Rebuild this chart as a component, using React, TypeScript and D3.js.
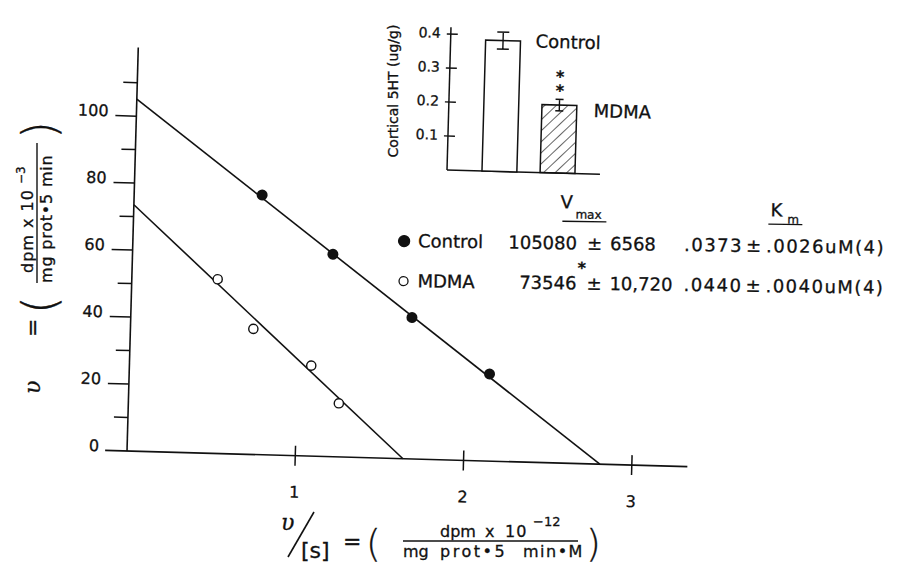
import React, { useRef, useEffect } from 'react';
import * as d3 from 'd3';

// Eadie-Hofstee points: v (dpm x 10^-3) against v/[s] (dpm x 10^-12)
const controlRatio = [0.76, 1.19, 1.67, 2.14];
const controlV = [77.5, 60.4, 42.2, 26.0];
const mdmaRatio = [0.51, 0.73, 1.08, 1.25];
const mdmaV = [52.0, 37.5, 27.0, 16.0];

// fitted lines: y intercept (Vmax / 1000) and x intercept
const fitVmax = [105.08, 73.546];
const fitXIntercept = [2.81, 1.64];

const xTicks = [1, 2, 3];
const yMajorTicks = [0, 20, 40, 60, 80, 100];
const yMinorTicks = [10, 30, 50, 70, 90, 110];

// inset: cortical 5HT
const insetGroups = ['Control', 'MDMA'];
const insetValues = [0.385, 0.2];
const insetErrors = [0.025, 0.017];
const insetTicks = [0.1, 0.2, 0.3, 0.4];

// kinetic constants table
const tableNames = ['Control', 'MDMA'];
const tableVmax = ['105080', '73546'];
const tableVmaxErr = ['6568', '10,720'];
const tableKm = ['.0373', '.0440'];
const tableKmErr = ['.0026uM(4)', '.0040uM(4)'];

const W = 917;
const H = 567;
const FONT = 'DejaVu Sans';
const INK = '#111';

const App = () => {
  const ref = useRef<SVGSVGElement>(null);

  useEffect(() => {
    const svg = d3.select(ref.current);
    svg.selectAll('*').remove();
    svg.style('font-family', FONT);

    const defs = svg.append('defs');
    defs.append('pattern')
      .attr('id', 'hatch')
      .attr('patternUnits', 'userSpaceOnUse')
      .attr('width', 8)
      .attr('height', 8)
      .attr('patternTransform', 'rotate(45)')
      .append('line')
      .attr('x1', 0).attr('y1', 0).attr('x2', 0).attr('y2', 8)
      .attr('stroke', INK)
      .attr('stroke-width', 1.3);

    // ---- main plot (scan is tilted a little, so rotate about the origin)
    const x = d3.scaleLinear().domain([0, 3]).range([127, 632]);
    const y = d3.scaleLinear().domain([0, 100]).range([451, 116]);
    const plot = svg.append('g').attr('transform', `rotate(1.6, ${x(0)}, ${y(0)})`);

    // axes
    plot.append('line')
      .attr('x1', x(-0.13)).attr('x2', x(3.33))
      .attr('y1', y(0)).attr('y2', y(0))
      .attr('stroke', INK).attr('stroke-width', 1.6);
    plot.append('line')
      .attr('x1', x(0)).attr('x2', x(0))
      .attr('y1', y(0)).attr('y2', y(120.5))
      .attr('stroke', INK).attr('stroke-width', 1.6);

    // y ticks
    plot.selectAll('line.ymaj')
      .data(yMajorTicks.filter(d => d > 0))
      .join('line')
      .attr('class', 'ymaj')
      .attr('x1', x(0) - 21).attr('x2', x(0))
      .attr('y1', d => y(d)).attr('y2', d => y(d))
      .attr('stroke', INK).attr('stroke-width', 1.5);
    plot.selectAll('line.ymin')
      .data(yMinorTicks)
      .join('line')
      .attr('class', 'ymin')
      .attr('x1', x(0) - 14).attr('x2', x(0))
      .attr('y1', d => y(d)).attr('y2', d => y(d))
      .attr('stroke', INK).attr('stroke-width', 1.5);
    plot.selectAll('text.ylab')
      .data(yMajorTicks)
      .join('text')
      .attr('class', 'ylab')
      .attr('x', x(0) - 28)
      .attr('y', d => y(d) + 1)
      .attr('text-anchor', 'end')
      .attr('font-size', 16)
      .attr('fill', INK)
      .text(d => d);

    // x ticks
    plot.selectAll('line.xt')
      .data(xTicks)
      .join('line')
      .attr('class', 'xt')
      .attr('x1', d => x(d)).attr('x2', d => x(d))
      .attr('y1', y(0) - 10).attr('y2', y(0) + 10)
      .attr('stroke', INK).attr('stroke-width', 1.5);
    plot.selectAll('text.xlab')
      .data(xTicks)
      .join('text')
      .attr('class', 'xlab')
      .attr('x', d => x(d))
      .attr('y', y(0) + 42)
      .attr('text-anchor', 'middle')
      .attr('font-size', 16)
      .attr('fill', INK)
      .text(d => d);

    // fitted lines
    const line = d3.line<[number, number]>().x(d => x(d[0])).y(d => y(d[1]));
    plot.selectAll('path.fit')
      .data(fitVmax.map((v, i) => [[0, v], [fitXIntercept[i], 0]] as [number, number][]))
      .join('path')
      .attr('class', 'fit')
      .attr('d', d => line(d))
      .attr('fill', 'none')
      .attr('stroke', INK)
      .attr('stroke-width', 1.6);

    // points
    plot.selectAll('circle.ctl')
      .data(controlRatio.map((r, i) => [r, controlV[i]]))
      .join('circle')
      .attr('class', 'ctl')
      .attr('cx', d => x(d[0])).attr('cy', d => y(d[1]))
      .attr('r', 5.5)
      .attr('fill', INK);
    plot.selectAll('circle.mdma')
      .data(mdmaRatio.map((r, i) => [r, mdmaV[i]]))
      .join('circle')
      .attr('class', 'mdma')
      .attr('cx', d => x(d[0])).attr('cy', d => y(d[1]))
      .attr('r', 4.6)
      .attr('fill', 'white')
      .attr('stroke', INK)
      .attr('stroke-width', 1.4);

    // ---- y axis title (rotated)
    const yt = svg.append('g').attr('transform', 'translate(0, 400) rotate(-90)').attr('fill', INK);
    yt.append('text').attr('x', 6).attr('y', 40)
      .attr('font-family', 'DejaVu Serif').attr('font-style', 'italic')
      .attr('font-size', 22).text('υ');
    yt.append('text').attr('x', 63).attr('y', 40).attr('font-size', 22).text('=');
    yt.append('text').attr('x', 86).attr('y', 55).attr('font-size', 46).attr('font-weight', 200).text('(');
    yt.append('text').attr('x', 127).attr('y', 33).attr('font-size', 16)
      .attr('letter-spacing', 1).text('dpm x 10');
    yt.append('text').attr('x', 216).attr('y', 25).attr('font-size', 12).text('−3');
    yt.append('line').attr('x1', 117).attr('x2', 257).attr('y1', 37).attr('y2', 37)
      .attr('stroke', INK).attr('stroke-width', 1.4);
    yt.append('text').attr('x', 117).attr('y', 52).attr('font-size', 16)
      .attr('letter-spacing', 0.8).text('mg prot•5 min');
    yt.append('text').attr('x', 261).attr('y', 55).attr('font-size', 46).attr('font-weight', 200).text(')');

    // ---- x axis title
    const xt = svg.append('g').attr('fill', INK);
    xt.append('text').attr('x', 281).attr('y', 530)
      .attr('font-family', 'DejaVu Serif').attr('font-style', 'italic')
      .attr('font-size', 22).text('υ');
    xt.append('path').attr('d', 'M288,557L314,512')
      .attr('stroke', INK).attr('stroke-width', 1.6);
    xt.append('text').attr('x', 301).attr('y', 558).attr('font-size', 22).text('[s]');
    xt.append('text').attr('x', 343).attr('y', 549).attr('font-size', 22).text('=');
    xt.append('text').attr('x', 366).attr('y', 556).attr('font-size', 38).attr('font-weight', 200).text('(');
    xt.append('text').attr('x', 440).attr('y', 537).attr('font-size', 16).text('dpm');
    xt.append('text').attr('x', 485).attr('y', 537).attr('font-size', 16).text('x');
    xt.append('text').attr('x', 505).attr('y', 537).attr('font-size', 16).attr('letter-spacing', 1).text('10');
    xt.append('text').attr('x', 533).attr('y', 526).attr('font-size', 13).text('−12');
    xt.append('line').attr('x1', 403).attr('x2', 578).attr('y1', 541).attr('y2', 541)
      .attr('stroke', INK).attr('stroke-width', 1.4);
    xt.append('text').attr('x', 403).attr('y', 557).attr('font-size', 16).text('mg');
    xt.append('text').attr('x', 440).attr('y', 557).attr('font-size', 16).attr('letter-spacing', 2.5).text('prot•5');
    xt.append('text').attr('x', 523).attr('y', 557).attr('font-size', 16).attr('letter-spacing', 1.5).text('min•M');
    xt.append('text').attr('x', 586).attr('y', 556).attr('font-size', 38).attr('font-weight', 200).text(')');

    // ---- inset bar chart
    const ix = d3.scaleBand().domain(insetGroups).range([482, 575]).paddingInner(0.4);
    const iy = d3.scaleLinear().domain([0, 0.4]).range([170, 34]);
    const inset = svg.append('g').attr('transform', `rotate(1.6, 447, ${iy(0)})`);
    inset.append('line')
      .attr('x1', 447).attr('x2', 447).attr('y1', iy(0)).attr('y2', iy(0.42))
      .attr('stroke', INK).attr('stroke-width', 1.5);
    inset.append('line')
      .attr('x1', 447).attr('x2', 600).attr('y1', iy(0)).attr('y2', iy(0))
      .attr('stroke', INK).attr('stroke-width', 1.5);
    inset.selectAll('line.it')
      .data(insetTicks)
      .join('line')
      .attr('class', 'it')
      .attr('x1', 443).attr('x2', 454)
      .attr('y1', d => iy(d)).attr('y2', d => iy(d))
      .attr('stroke', INK).attr('stroke-width', 1.4);
    inset.selectAll('text.il')
      .data(insetTicks)
      .join('text')
      .attr('class', 'il')
      .attr('x', 437)
      .attr('y', d => iy(d) + 4)
      .attr('text-anchor', 'end')
      .attr('font-size', 14)
      .attr('fill', INK)
      .text(d => d3.format('.1f')(d));
    inset.selectAll('rect.bar')
      .data(insetGroups)
      .join('rect')
      .attr('class', 'bar')
      .attr('x', d => ix(d) as number)
      .attr('width', ix.bandwidth())
      .attr('y', (d, i) => iy(insetValues[i]))
      .attr('height', (d, i) => iy(0) - iy(insetValues[i]))
      .attr('fill', (d, i) => (i === 0 ? 'white' : 'url(#hatch)'))
      .attr('stroke', INK)
      .attr('stroke-width', 1.5);
    insetGroups.forEach((g, i) => {
      const cx = (ix(g) as number) + ix.bandwidth() / 2;
      const lo = iy(insetValues[i] - insetErrors[i]);
      const hi = iy(insetValues[i] + insetErrors[i]);
      const cap = i === 0 ? 6 : 4;
      inset.append('path')
        .attr('d', `M${cx},${lo}V${hi}M${cx - cap},${lo}H${cx + cap}M${cx - cap},${hi}H${cx + cap}`)
        .attr('fill', 'none')
        .attr('stroke', INK)
        .attr('stroke-width', 1.4);
    });
    const mdmaCx = (ix('MDMA') as number) + ix.bandwidth() / 2;
    const mdmaTop = iy(insetValues[1] + insetErrors[1]);
    [mdmaTop - 3, mdmaTop - 17].forEach(by => {
      inset.append('text')
        .attr('x', mdmaCx).attr('y', by)
        .attr('text-anchor', 'middle')
        .attr('font-size', 16).attr('font-weight', 'bold')
        .attr('fill', INK).text('*');
    });
    inset.append('text').attr('x', 532).attr('y', 45)
      .attr('font-size', 18).attr('fill', INK).text('Control');
    inset.append('text').attr('x', 592).attr('y', 113)
      .attr('font-size', 18).attr('fill', INK).text('MDMA');
    svg.append('text')
      .attr('transform', `translate(398, 91) rotate(-90)`)
      .attr('text-anchor', 'middle')
      .attr('font-size', 14)
      .attr('fill', INK)
      .text('Cortical 5HT (ug/g)');

    // ---- kinetic table
    const tbl = svg.append('g').attr('transform', 'rotate(0.8, 398, 247)').attr('fill', INK);
    tbl.append('text').attr('x', 560).attr('y', 206).attr('font-size', 18).text('V');
    tbl.append('text').attr('x', 575).attr('y', 216).attr('font-size', 12).text('max');
    tbl.append('line').attr('x1', 562).attr('x2', 606).attr('y1', 219).attr('y2', 219)
      .attr('stroke', INK).attr('stroke-width', 1.4);
    tbl.append('text').attr('x', 770).attr('y', 211).attr('font-size', 18).text('K');
    tbl.append('text').attr('x', 787).attr('y', 218).attr('font-size', 12).text('m');
    tbl.append('line').attr('x1', 768).attr('x2', 802).attr('y1', 219).attr('y2', 219)
      .attr('stroke', INK).attr('stroke-width', 1.4);

    const rowY = [247, 287];
    tableNames.forEach((name, i) => {
      tbl.append('circle')
        .attr('cx', 404).attr('cy', rowY[i] - 6)
        .attr('r', i === 0 ? 5.5 : 4.5)
        .attr('fill', i === 0 ? INK : 'white')
        .attr('stroke', INK).attr('stroke-width', 1.3);
      tbl.append('text').attr('x', 418).attr('y', rowY[i]).attr('font-size', 18).text(name);
      tbl.append('text').attr('x', 577).attr('y', rowY[i]).attr('font-size', 18)
        .attr('text-anchor', 'end').text(tableVmax[i]);
      tbl.append('text').attr('x', 587).attr('y', rowY[i]).attr('font-size', 18).text('±');
      tbl.append('text').attr('x', 610).attr('y', rowY[i]).attr('font-size', 18).text(tableVmaxErr[i]);
      tbl.append('text').attr('x', 684).attr('y', rowY[i]).attr('font-size', 18)
        .attr('letter-spacing', 1.5).text(tableKm[i]);
      tbl.append('text').attr('x', 746).attr('y', rowY[i]).attr('font-size', 18).text('±');
      tbl.append('text').attr('x', 766).attr('y', rowY[i]).attr('font-size', 18)
        .attr('letter-spacing', 1.5).text(tableKmErr[i]);
    });
    tbl.append('text').attr('x', 582).attr('y', 271)
      .attr('text-anchor', 'middle').attr('font-size', 16).attr('font-weight', 'bold').text('*');

    // scanned print is a little heavier than the screen font
    svg.selectAll('text').attr('stroke', INK).attr('stroke-width', 0.3);
  }, []);

  return (
    <svg
      ref={ref}
      width={W}
      height={H}
      style={{ position: 'absolute', left: 0, top: 0, background: 'white' }}
    />
  );
};

export default App;
